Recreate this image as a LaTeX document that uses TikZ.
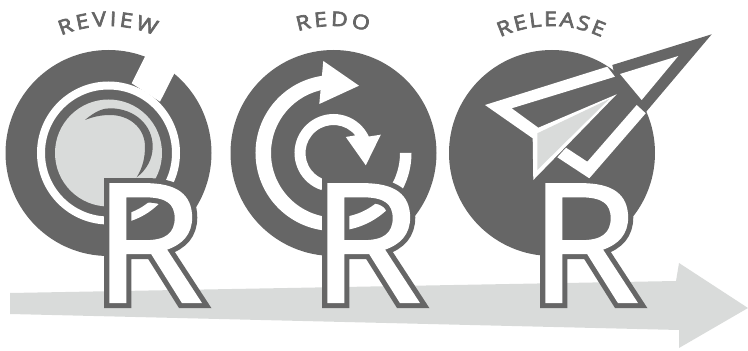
\documentclass[tikz,border=0pt]{standalone}
\usepackage{fontspec}
\usetikzlibrary{decorations.text}
\newfontfamily\labelfont{Open Sans}[FakeBold=3.5,FakeStretch=1.15]
\newfontfamily\letterfont{Open Sans}[FakeBold=1.3,FakeStretch=1.08]
\newfontfamily\rimfont{Open Sans}[FakeBold=7.5,FakeStretch=1.08]
\definecolor{slate}{HTML}{666666}
\definecolor{mist}{HTML}{D9DBDA}
\tikzset{
  disc/.style={fill=slate},
  cutout/.style={fill=white},
  letterrim/.style={text=slate, font=\rimfont\fontsize{165}{165}\selectfont, inner sep=0pt, anchor=base},
  letterface/.style={text=white, font=\letterfont\fontsize{165}{165}\selectfont, inner sep=0pt, anchor=base},
  steplabel/.style={decorate, decoration={text along path, text align={fit to path},
      text color=slate, text={|\labelfont\fontsize{20}{20}\selectfont|#1}}}
}

\begin{document}
\begin{tikzpicture}[x=1pt, y=1pt]
  \useasboundingbox (0,0) rectangle (748,351);
  \fill[mist] (10,58) -- (676,70) -- (679,88) -- (748,43) -- (679,3) -- (679,21) -- (10,37) -- cycle;

  % review
  \begin{scope}[shift={(108.5,198)}]
    \fill[disc] (0,0) circle (103);
    \fill[cutout] (23.2,69.7) -- (43.2,109.7) -- (72.5,92.8) -- (51.5,51.3) -- cycle;
    \draw[white, line width=8pt] (0,0) circle (67.5);
    \fill[mist] (0,0) circle (53.5);
    \fill[disc] (-23.5,33) .. controls (-12,43) and (-4,44.7) .. (1.5,44.7)
      .. controls (26,44.7) and (44.2,28) .. (44.2,6.3)
      .. controls (44.2,-6) and (38,-17) .. (28.2,-24.3)
      .. controls (34,-15) and (36.5,-5) .. (36.5,6.3)
      .. controls (36.5,25) and (21,38) .. (1.5,38)
      .. controls (-8,38) and (-16,36) .. (-23.5,33) -- cycle;
  \end{scope}

  % redo
  \begin{scope}[shift={(333.5,198)}]
    \fill[disc] (0,0) circle (103);
    \fill[cutout] (98.7:78) arc[start angle=98.7, end angle=360, radius=78]
      -- (66.5,0) arc[start angle=0, end angle=-261, radius=64.5] -- cycle;
    \fill[cutout] (-10.2,92) -- (25.5,67.3) -- (-14.2,49) -- cycle;
    \fill[cutout] (252:39) arc[start angle=252, end angle=25, radius=39]
      -- (47.3,18.3) -- (32.3,-12.3) -- (12.3,16) -- (39:28)
      arc[start angle=39, end angle=252, radius=28] -- cycle;
  \end{scope}

  % release
  \begin{scope}[shift={(552,198)}]
    \fill[disc] (0,0) circle (103);
    \fill[cutout] (-67,48) -- (55.3,86.3) -- (63,76.3) -- (-40.3,44.7) -- (-13.7,25.3)
      -- (64.7,58.7) -- (7.3,-0.3) -- (-18.7,-27) -- (-19.3,14.7) -- cycle;
    \fill[mist] (-14.7,19.7) -- (57.3,54) -- (-14.7,-17) -- cycle;
    \fill[cutout] (84.7,48) -- (93.7,39.7) -- (37.3,-25.3) -- (5.3,-4.3) -- (14,5.3) -- (35.3,-8.7) -- cycle;
    \fill[disc] (60.3,88) -- (159.7,118.7) -- (93.7,40.7) -- (88,46.3) -- (63,76.3) -- cycle;
    \fill[cutout] (68,79) -- (126.3,97) -- (89.7,53) -- cycle;
  \end{scope}

  \foreach \cx/\half/\lab in {108/23/REVIEW, 333/17/REDO, 551/25/RELEASE}
    { \path[steplabel=\lab] (\cx,205) ++(90+\half:120) arc[start angle=90+\half, end angle=90-\half, radius=120]; }

  \foreach \cx/\name in {148/review, 366/redo, 584/release}
    { \node[letterrim] (rim\name) at (\cx,49) {R};
      \node[letterface] (face\name) at (\cx,49) {R}; }
\end{tikzpicture}
\end{document}
